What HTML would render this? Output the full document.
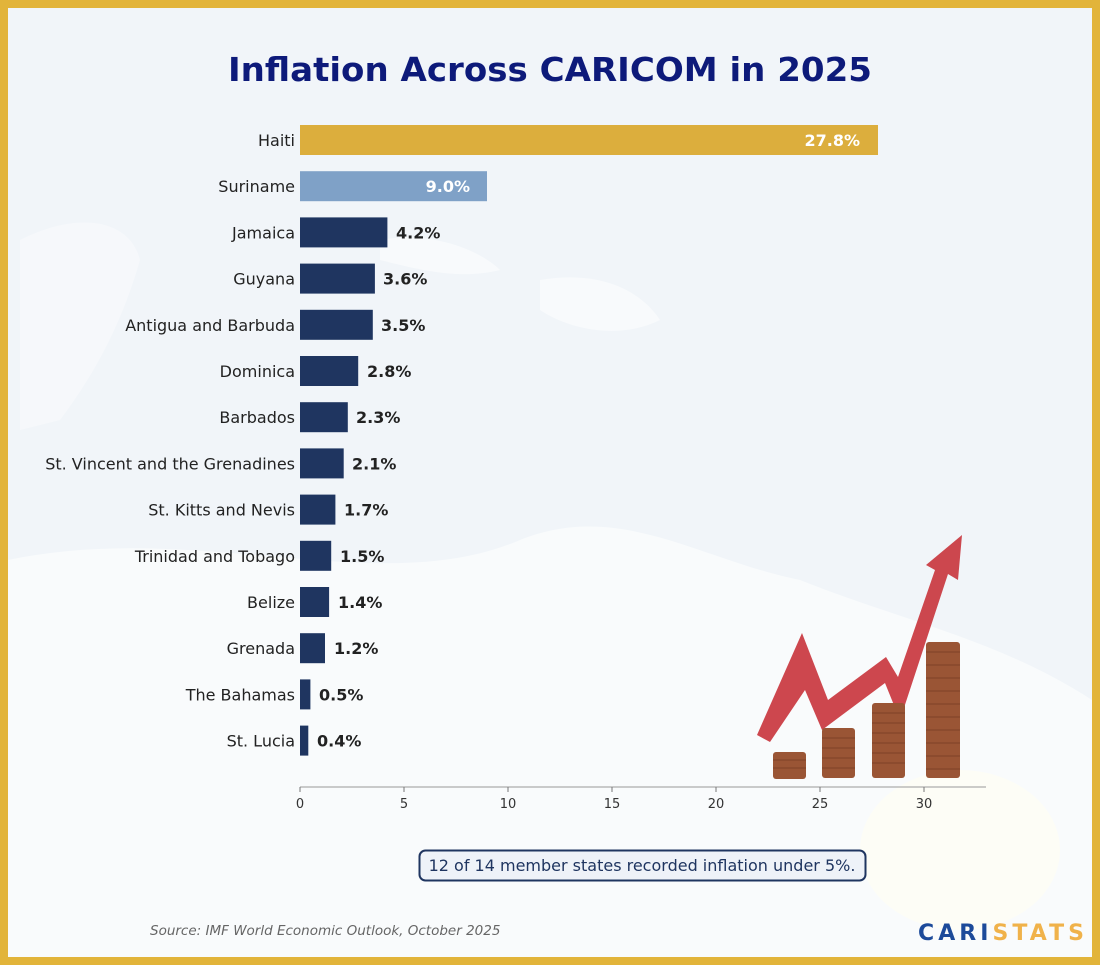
<!DOCTYPE html>
<html><head><meta charset="utf-8"><style>
body{margin:0;width:1100px;height:965px;overflow:hidden;background:#e2b43a}
svg{display:block}
</style></head><body>
<svg width="1100" height="965" viewBox="0 0 1100 965" xmlns="http://www.w3.org/2000/svg" font-family="DejaVu Sans, Liberation Sans, sans-serif">
<rect x="0" y="0" width="1100" height="965" fill="#e2b43a"/>
<rect x="8" y="8" width="1084" height="949" fill="#f1f5f9"/>
<path d="M8 560 C200 520 380 600 520 540 C620 500 700 560 800 580 C900 620 1000 640 1092 700 L1092 957 L8 957 Z" fill="#f9fbfc"/>
<path d="M20 240 C80 210 130 220 140 260 C120 330 90 380 60 420 L20 430 Z" fill="#f6f8fb"/>
<path d="M380 240 C430 230 480 250 500 270 C460 280 420 270 380 260 Z" fill="#f8fafc"/>
<path d="M540 280 C600 270 640 290 660 320 C620 340 570 330 540 310 Z" fill="#f8fafc"/>
<ellipse cx="960" cy="850" rx="100" ry="80" fill="#fdfdf6"/>
<text x="550" y="81" text-anchor="middle" font-size="33" font-weight="bold" fill="#0d1a7a" textLength="644" lengthAdjust="spacingAndGlyphs">Inflation Across CARICOM in 2025</text>
<g font-size="16" fill="#222">
<rect x="300" y="125" width="578" height="30" fill="#dcae3d"/>
<text x="295" y="146" text-anchor="end">Haiti</text>
<text x="860" y="146" text-anchor="end" font-weight="bold" fill="#fff">27.8%</text>
<rect x="300" y="171.2" width="187" height="30" fill="#7fa1c7"/>
<text x="295" y="192.2" text-anchor="end">Suriname</text>
<text x="470" y="192.2" text-anchor="end" font-weight="bold" fill="#fff">9.0%</text>
</g>
<g font-size="16" fill="#222">
<g fill="#1f3560">
<rect x="300" y="217.4" width="87.4" height="30"/>
<rect x="300" y="263.6" width="74.9" height="30"/>
<rect x="300" y="309.8" width="72.8" height="30"/>
<rect x="300" y="356" width="58.2" height="30"/>
<rect x="300" y="402.2" width="47.8" height="30"/>
<rect x="300" y="448.4" width="43.7" height="30"/>
<rect x="300" y="494.6" width="35.4" height="30"/>
<rect x="300" y="540.8" width="31.2" height="30"/>
<rect x="300" y="587" width="29.1" height="30"/>
<rect x="300" y="633.2" width="25" height="30"/>
<rect x="300" y="679.4" width="10.4" height="30"/>
<rect x="300" y="725.6" width="8.3" height="30"/>
</g>
<g text-anchor="end">
<text x="295" y="238.4">Jamaica</text>
<text x="295" y="284.6">Guyana</text>
<text x="295" y="330.8">Antigua and Barbuda</text>
<text x="295" y="377">Dominica</text>
<text x="295" y="423.2">Barbados</text>
<text x="295" y="469.4">St. Vincent and the Grenadines</text>
<text x="295" y="515.6">St. Kitts and Nevis</text>
<text x="295" y="561.8">Trinidad and Tobago</text>
<text x="295" y="608">Belize</text>
<text x="295" y="654.2">Grenada</text>
<text x="295" y="700.4">The Bahamas</text>
<text x="295" y="746.6">St. Lucia</text>
</g>
<g font-weight="bold">
<text x="396" y="238.4">4.2%</text>
<text x="383" y="284.6">3.6%</text>
<text x="381" y="330.8">3.5%</text>
<text x="367" y="377">2.8%</text>
<text x="356" y="423.2">2.3%</text>
<text x="352" y="469.4">2.1%</text>
<text x="344" y="515.6">1.7%</text>
<text x="340" y="561.8">1.5%</text>
<text x="338" y="608">1.4%</text>
<text x="334" y="654.2">1.2%</text>
<text x="319" y="700.4">0.5%</text>
<text x="317" y="746.6">0.4%</text>
</g>
</g>
<path d="M757 735 L802 633 L828 700 L886 657 L898 677 L935 570 L926 565 L962 535 L958 580 L948 574 L900 720 L885 683 L822 730 L805 690 L770 742 Z" fill="#c9373f" opacity="0.92"/>
<g fill="#9a5535">
<rect x="773" y="752" width="33" height="27" rx="3"/>
<rect x="822" y="728" width="33" height="50" rx="3"/>
<rect x="872" y="703" width="33" height="75" rx="3"/>
<rect x="926" y="642" width="34" height="136" rx="3"/>
</g>
<g stroke="#6b3420" stroke-width="1" opacity="0.6">
<path d="M773 760h33M773 768h33M822 738h33M822 748h33M822 758h33M822 768h33M872 713h33M872 723h33M872 733h33M872 743h33M872 753h33M872 763h33M926 652h34M926 665h34M926 678h34M926 691h34M926 704h34M926 717h34M926 730h34M926 743h34M926 756h34M926 769h34"/>
</g>
<line x1="300" y1="787" x2="986" y2="787" stroke="#999" stroke-width="1"/>
<g stroke="#777"><path d="M300 787v5M404 787v5M508 787v5M612 787v5M716 787v5M820 787v5M924 787v5"/></g>
<g font-size="13" fill="#333" text-anchor="middle">
<text x="300" y="808">0</text><text x="404" y="808">5</text><text x="508" y="808">10</text><text x="612" y="808">15</text><text x="716" y="808">20</text><text x="820" y="808">25</text><text x="924" y="808">30</text>
</g>
<rect x="419.5" y="850.5" width="446" height="30" rx="6" fill="#eef2f8" stroke="#1f3560" stroke-width="2"/>
<text x="642" y="871" text-anchor="middle" font-size="16" fill="#1f3560">12 of 14 member states recorded inflation under 5%.</text>
<text x="150" y="935" font-size="13.5" font-style="italic" fill="#666">Source: IMF World Economic Outlook, October 2025</text>
<text x="918" y="940" font-size="22" font-weight="bold" fill="#1c4a9a" textLength="166" lengthAdjust="spacing">CARI<tspan fill="#f0b24a">STATS</tspan></text>
</svg>
</body></html>
